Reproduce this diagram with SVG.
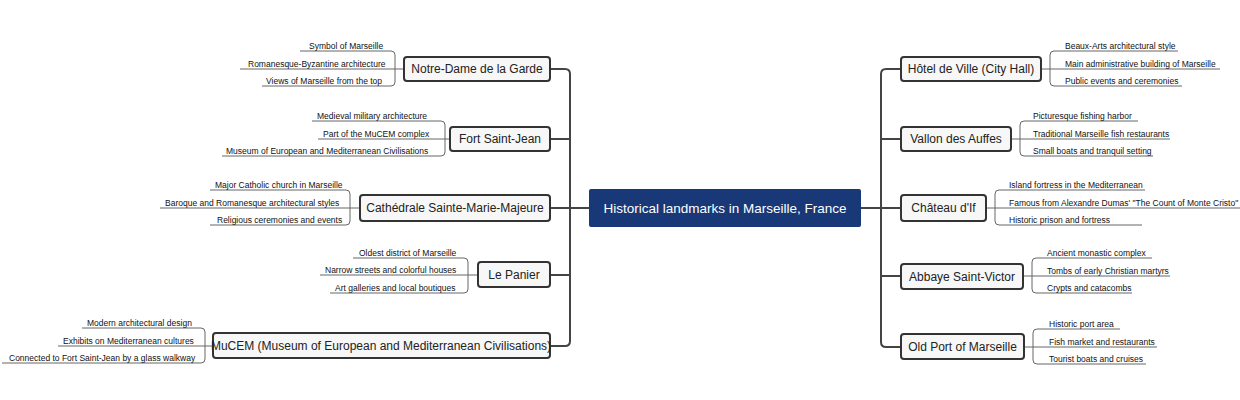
<svg xmlns="http://www.w3.org/2000/svg" width="1240" height="400" viewBox="0 0 1240 400">
<style>
.b{fill:#f7f7f7;stroke:#333;stroke-width:2}
.bt{font-family:"Liberation Sans",Arial,sans-serif;font-size:12px;fill:#222;text-anchor:middle}
.l{font-family:"Liberation Sans",Arial,sans-serif;font-size:8.5px;fill:#111}
.c{fill:none;stroke:#444;stroke-width:2}
.lc{fill:none;stroke:#666;stroke-width:1}
</style>
<rect width="1240" height="400" fill="#fff"/>
<g id="connectors">
<path class="c" d="M550,69 H565 Q570,69 570,74 V341 Q570,346 565,346 H550 M550,139 H570 M550,208 H589 M550,275 H570"/>
<path class="c" d="M901,69 H886 Q881,69 881,74 V342 Q881,347 886,347 H901 M901,139 H881 M861,208 H901 M901,276 H881"/>
<path class="lc" d="M300,51 H391 Q395,51 395,55 V82 Q395,86 391,86 H262 M240,69 H404"/>
<path class="lc" d="M312,121 H441 Q445,121 445,125 V152 Q445,156 441,156 H222 M318,139 H450"/>
<path class="lc" d="M210,190 H346 Q350,190 350,194 V221 Q350,225 346,225 H210 M160,208 H360"/>
<path class="lc" d="M353,258 H464 Q468,258 468,262 V289 Q468,293 464,293 H330 M320,275 H478"/>
<path class="lc" d="M82,328 H201 Q205,328 205,332 V359 Q205,363 201,363 H2 M58,346 H213"/>
<path class="lc" d="M1178,51 H1054 Q1050,51 1050,55 V82 Q1050,86 1054,86 H1182 M1220,69 H1041"/>
<path class="lc" d="M1138,121 H1024 Q1020,121 1020,125 V152 Q1020,156 1024,156 H1153 M1170,139 H1011"/>
<path class="lc" d="M1145,190 H999 Q995,190 995,194 V221 Q995,225 999,225 H1142 M1240,208 H986"/>
<path class="lc" d="M1152,258 H1036 Q1032,258 1032,262 V289 Q1032,293 1036,293 H1132 M1170,276 H1023"/>
<path class="lc" d="M1120,329 H1037 Q1033,329 1033,333 V360 Q1033,364 1037,364 H1146 M1157,347 H1024"/>
</g>
<g id="root"><rect x="589" y="189" width="272" height="38" rx="2" fill="#183878"/><text x="725" y="213" font-family="Liberation Sans,Arial,sans-serif" font-size="13.5px" fill="#fff" text-anchor="middle">Historical landmarks in Marseille, France</text></g>
<g id="n1"><rect class="b" x="404" y="57" width="146" height="24" rx="3"/><text class="bt" x="477" y="73">Notre-Dame de la Garde</text>
<text class="l" x="309" y="49">Symbol of Marseille</text><text class="l" x="248" y="67">Romanesque-Byzantine architecture</text><text class="l" x="266" y="84">Views of Marseille from the top</text></g>
<g id="n2"><rect class="b" x="450" y="127" width="100" height="24" rx="3"/><text class="bt" x="500" y="143">Fort Saint-Jean</text>
<text class="l" x="317" y="119">Medieval military architecture</text><text class="l" x="323" y="137">Part of the MuCEM complex</text><text class="l" x="226" y="154">Museum of European and Mediterranean Civilisations</text></g>
<g id="n3"><rect class="b" x="360" y="195" width="190" height="26" rx="3"/><text class="bt" x="455" y="212">Cathédrale Sainte-Marie-Majeure</text>
<text class="l" x="215" y="188">Major Catholic church in Marseille</text><text class="l" x="165" y="206">Baroque and Romanesque architectural styles</text><text class="l" x="217" y="223">Religious ceremonies and events</text></g>
<g id="n4"><rect class="b" x="478" y="262" width="72" height="25" rx="3"/><text class="bt" x="514" y="279">Le Panier</text>
<text class="l" x="359" y="256">Oldest district of Marseille</text><text class="l" x="325" y="273">Narrow streets and colorful houses</text><text class="l" x="335" y="291">Art galleries and local boutiques</text></g>
<g id="n5"><rect class="b" x="213" y="333" width="337" height="25" rx="3"/><text class="bt" x="381" y="350">MuCEM (Museum of European and Mediterranean Civilisations)</text>
<text class="l" x="87" y="326">Modern architectural design</text><text class="l" x="63" y="344">Exhibits on Mediterranean cultures</text><text class="l" x="9" y="361">Connected to Fort Saint-Jean by a glass walkway</text></g>
<g id="n6"><rect class="b" x="901" y="57" width="140" height="24" rx="3"/><text class="bt" x="971" y="73">Hôtel de Ville (City Hall)</text>
<text class="l" x="1065" y="49">Beaux-Arts architectural style</text><text class="l" x="1065" y="67">Main administrative building of Marseille</text><text class="l" x="1065" y="84">Public events and ceremonies</text></g>
<g id="n7"><rect class="b" x="901" y="127" width="110" height="24" rx="3"/><text class="bt" x="956" y="143">Vallon des Auffes</text>
<text class="l" x="1033" y="119">Picturesque fishing harbor</text><text class="l" x="1033" y="137">Traditional Marseille fish restaurants</text><text class="l" x="1033" y="154">Small boats and tranquil setting</text></g>
<g id="n8"><rect class="b" x="901" y="195" width="85" height="26" rx="3"/><text class="bt" x="943.5" y="212">Château d'If</text>
<text class="l" x="1009" y="188">Island fortress in the Mediterranean</text><text class="l" x="1009" y="206">Famous from Alexandre Dumas' "The Count of Monte Cristo"</text><text class="l" x="1009" y="223">Historic prison and fortress</text></g>
<g id="n9"><rect class="b" x="901" y="264" width="122" height="25" rx="3"/><text class="bt" x="962" y="281">Abbaye Saint-Victor</text>
<text class="l" x="1047" y="256">Ancient monastic complex</text><text class="l" x="1047" y="274">Tombs of early Christian martyrs</text><text class="l" x="1047" y="291">Crypts and catacombs</text></g>
<g id="n10"><rect class="b" x="901" y="334" width="123" height="25" rx="3"/><text class="bt" x="962.5" y="351">Old Port of Marseille</text>
<text class="l" x="1049" y="327">Historic port area</text><text class="l" x="1049" y="345">Fish market and restaurants</text><text class="l" x="1049" y="362">Tourist boats and cruises</text></g>
</svg>
